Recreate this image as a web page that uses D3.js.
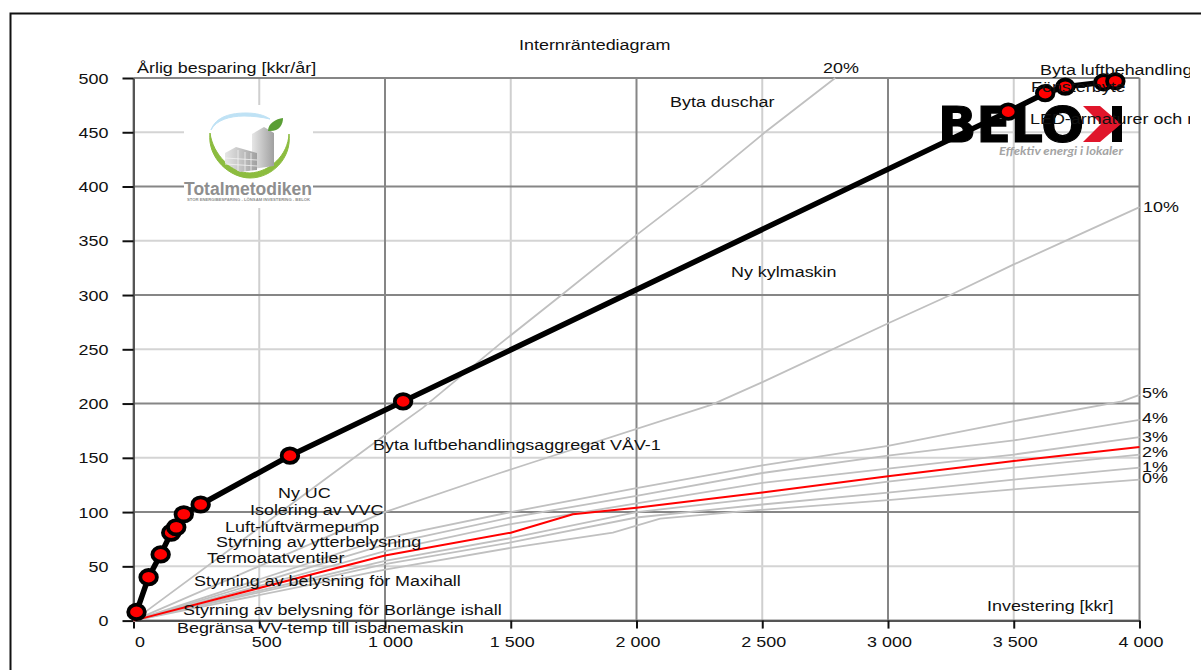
<!DOCTYPE html>
<html lang="sv">
<head>
<meta charset="utf-8" />
<title>Internräntediagram</title>
<style>
  html, body { margin: 0; padding: 0; background: #fff; overflow: hidden; }
  text { font-family: "Liberation Sans", Arial, sans-serif; fill: #111; }
</style>
</head>
<body>
<script src="https://d3js.org/d3.v7.min.js"></script>
<script>
// investment [kkr], yearly saving [kkr/yr]
const investX = [12, 60, 108, 150, 170, 200, 267, 622, 1072, 3478, 3625, 3705, 3857, 3904];
const savingY = [8, 40, 61, 81, 86, 98, 107, 152, 202, 469, 486, 492, 496, 497];

// internal rate curves
const rate20 = [[0,0],[1000,171],[1150,196],[1457,255],[1702,300],[1998,355],[2245,399],[2511,450],[2790,500]];
const rate10 = [[0,0],[987,99],[1457,136],[1576,145],[2300,199],[2503,220],[3001,274],[3248,300],[3498,328],[3725,352],[4000,381]];
const rate5 = [[0,0],[1000,76],[1500,100],[2000,122],[2500,143],[3000,161],[3506,184],[3930,202],[4000,208]];
const rate4 = [[0,0],[1000,70],[1500,95],[2000,115],[2500,136],[3000,152],[3500,166],[4000,185]];
const rate3 = [[0,0],[1000,64],[1500,89],[2000,108],[2500,127],[3000,140],[3500,153],[4000,169]];
const rate2 = [[0,0],[1000,55],[1500,76],[2000,100],[2500,113],[3000,128],[3500,141],[4000,153]];
const rate1 = [[0,0],[1000,52],[1500,72],[2000,95],[2500,107],[3000,118],[3500,130],[4000,141]];
const rate0 = [[0,0],[1000,47],[1500,67],[1906,81],[2094,94],[2384,100],[3000,111],[3500,121],[4000,130]];
const redLine = [[0,0],[1000,60],[1500,81],[1747,98],[2000,104],[2500,118],[3000,133],[3500,147],[4000,160]];

const grayCurves = [rate20, rate10, rate5, rate4, rate3, rate2, rate1, rate0];

const xTicks = [0, 500, 1000, 1500, 2000, 2500, 3000, 3500, 4000];
const yTicks = [0, 50, 100, 150, 200, 250, 300, 350, 400, 450, 500];

const rateLabels = ["20%", "10%", "5%", "4%", "3%", "2%", "1%", "0%"];
const ratePos = [[823,73],[1143,212],[1142,398],[1142,423],[1142,442],[1142,457],[1142,472],[1142,483]];

const measures = [
  "Begränsa VV-temp till isbanemaskin",
  "Styrning av belysning för Borlänge ishall",
  "Styrning av belysning för Maxihall",
  "Termoatatventiler",
  "Styrning av ytterbelysning",
  "Luft-luftvärmepump",
  "Isolering av VVC",
  "Ny UC",
  "Byta luftbehandlingsaggregat VÅV-1",
  "Ny kylmaskin",
  "Byta duschar",
  "LED-armaturer och r",
  "Fönsterbyte",
  "Byta luftbehandling"
];
const measurePos = [[177,633],[183,615],[194,586],[207,563],[216,547],[225,532],[250,515],[278,498],[373,450],[731,277],[670,107],[1030,124],[1031,92],[1040,75]];

const width = 1201, height = 670;
const x = d3.scaleLinear().domain([0, 4000]).range([133.5, 1139.5]);
const y = d3.scaleLinear().domain([0, 500]).range([620.6, 78]);
const stretch = 1.195;   // the original picture is stretched sideways

const svg = d3.select("body").append("svg")
  .attr("width", width)
  .attr("height", height)
  .style("display", "block");

svg.append("defs").append("clipPath").attr("id", "pageclip")
  .append("rect").attr("width", 1190).attr("height", height);

const stretched = (g, px, py, label, size) => g.append("text")
  .attr("transform", `translate(${px},${py}) scale(${stretch},1)`)
  .attr("font-size", size || 15)
  .text(label);

// frame
svg.append("path")
  .attr("d", "M10.5,670V13.5H1201")
  .attr("fill", "none").attr("stroke", "#111").attr("stroke-width", 2);

// grid
const grid = svg.append("g");
const isMajorX = d => d % 1000 === 0;
const isMajorY = d => d % 100 === 0;
grid.selectAll("line.vminor").data(xTicks.filter(d => !isMajorX(d))).enter().append("line")
  .attr("x1", d => x(d)).attr("x2", d => x(d)).attr("y1", y(500)).attr("y2", y(0))
  .attr("stroke", "#cfcfcf").attr("stroke-width", 2);
grid.selectAll("line.hminor").data(yTicks.filter(d => !isMajorY(d))).enter().append("line")
  .attr("x1", x(0)).attr("x2", x(4000)).attr("y1", d => y(d)).attr("y2", d => y(d))
  .attr("stroke", "#d4d4d4").attr("stroke-width", 2);
grid.selectAll("line.hmajor").data(yTicks.filter(isMajorY)).enter().append("line")
  .attr("x1", x(0)).attr("x2", x(4000)).attr("y1", d => y(d)).attr("y2", d => y(d))
  .attr("stroke", "#868686").attr("stroke-width", 2);
grid.selectAll("line.vmajor").data(xTicks.filter(isMajorX)).enter().append("line")
  .attr("x1", d => x(d)).attr("x2", d => x(d)).attr("y1", y(500)).attr("y2", y(0))
  .attr("stroke", "#868686").attr("stroke-width", 2);

// axes
const fmt = d => d3.format(",")(d).replace(",", " ");
const xAxis = svg.append("g").attr("transform", `translate(0,${y(0)})`)
  .call(d3.axisBottom(x).tickValues(xTicks).tickFormat(fmt).tickSize(8).tickSizeOuter(0));
const yAxis = svg.append("g").attr("transform", `translate(${x(0)},0)`)
  .call(d3.axisLeft(y).tickValues(yTicks).tickSize(11).tickSizeOuter(0));
svg.selectAll(".domain").attr("stroke", "#555").attr("stroke-width", 2);
svg.selectAll(".tick line").attr("stroke", "#111").attr("stroke-width", 2);

const xShift = d => d === 0 ? 6 : d === 500 ? 7 : d === 1000 ? 5 : 1;
xAxis.selectAll("text")
  .attr("font-family", null).attr("font-size", 15).attr("text-anchor", "middle")
  .attr("y", null).attr("dy", null)
  .attr("transform", d => `translate(${xShift(d)},26) scale(${stretch},1)`);
yAxis.selectAll("text")
  .attr("font-family", null).attr("font-size", 15).attr("text-anchor", "end")
  .attr("x", null).attr("dy", null)
  .attr("transform", `translate(-25,5) scale(${stretch},1)`);

// Totalmetodiken logo
const logoA = svg.append("g");
logoA.append("rect").attr("x", 184).attr("y", 105).attr("width", 129).attr("height", 103).attr("fill", "#fff");
const bGrad = svg.select("defs").append("linearGradient").attr("id", "bgrad").attr("x1", 0).attr("x2", 1).attr("y1", 0).attr("y2", 0);
bGrad.append("stop").attr("offset", 0).attr("stop-color", "#e6e6e6");
bGrad.append("stop").attr("offset", 1).attr("stop-color", "#a0a0a0");
logoA.append("path").attr("d", "M211,130C216,116 232,113 246,113C256,113 264,115 270,119C262,117 252,116 244,116C230,116 216,120 211,130Z")
  .attr("fill", "#bfe2f5").attr("stroke", "#bfe2f5").attr("stroke-width", 1);
logoA.append("path").attr("d", "M210,133C207,158 230,178 250,178C272,178 292,158 289,134C288,155 270,172 250,173C232,173 213,155 210,133Z")
  .attr("fill", "#8cbc3f").attr("stroke", "#8cbc3f").attr("stroke-width", 1);
logoA.append("path").attr("d", "M252,134L264,127L274,133V166L252,169Z").attr("fill", "url(#bgrad)");
logoA.append("path").attr("d", "M225,153L236,147L257,153V170L240,172L225,163Z").attr("fill", "url(#bgrad)");
logoA.append("path").attr("d", "M238,150V171M245,152V172M251,153V171M225,158L257,160M225,164L257,166")
  .attr("fill", "none").attr("stroke", "#f2f2f2").attr("stroke-width", 0.8);
logoA.append("path").attr("d", "M268,131C268,123 276,119 283,118C283,125 279,132 268,131Z").attr("fill", "#5a9e35");
logoA.append("text").attr("x", 184).attr("y", 195).attr("font-size", 17.5).attr("font-weight", "bold")
  .attr("textLength", 128).attr("lengthAdjust", "spacingAndGlyphs").style("fill", "#8e8e8e").text("Totalmetodiken");
logoA.append("text").attr("x", 187).attr("y", 200.5).attr("font-size", 4).attr("font-weight", "bold")
  .attr("textLength", 123).attr("lengthAdjust", "spacingAndGlyphs").style("fill", "#8e8e8e").text("STOR ENERGIBESPARING - LÖNSAM INVESTERING - BELOK");

// BELOK logo
const logoB = svg.append("g");
logoB.append("text").attr("x", 938).attr("y", 141.5).attr("font-size", 49).attr("font-weight", "bold")
  .attr("textLength", 146).attr("lengthAdjust", "spacingAndGlyphs")
  .attr("stroke", "#000").attr("stroke-width", 1.2)
  .style("font-family", "'DejaVu Sans'").style("fill", "#000").text("BELO");
logoB.append("rect").attr("x", 1112).attr("y", 106).attr("width", 10).attr("height", 36).attr("fill", "#000");
logoB.append("path").attr("d", "M1083,106H1100L1121,124L1100,142H1083L1101,124Z").attr("fill", "#e0162b");
logoB.append("text").attr("x", 999).attr("y", 155).attr("font-size", 11.5).attr("font-weight", "bold").attr("font-style", "italic")
  .attr("textLength", 124).attr("lengthAdjust", "spacingAndGlyphs")
  .style("font-family", "Lato").style("fill", "#a4a4a4").text("Effektiv energi i lokaler");

// curves
const curve = d3.line().x(d => x(d[0])).y(d => y(d[1]));
svg.append("g").selectAll("path").data(grayCurves).enter().append("path")
  .attr("d", curve).attr("fill", "none").attr("stroke", "#c0c0c0").attr("stroke-width", 1.8);
svg.append("path").datum(redLine).attr("d", curve)
  .attr("fill", "none").attr("stroke", "#ff0000").attr("stroke-width", 2);

// cumulative line
const pts = investX.map((d, i) => [d, savingY[i]]);
svg.append("path").datum(pts).attr("d", curve)
  .attr("fill", "none").attr("stroke", "#000").attr("stroke-width", 5.5).attr("stroke-linejoin", "round");
svg.append("g").selectAll("ellipse").data(pts).enter().append("ellipse")
  .attr("cx", d => x(d[0])).attr("cy", d => y(d[1]))
  .attr("rx", 8.3).attr("ry", 7.2)
  .attr("fill", "#ff0000").attr("stroke", "#000").attr("stroke-width", 3.8);

// texts
const labels = svg.append("g").attr("clip-path", "url(#pageclip)");
stretched(labels, 519, 50, "Internräntediagram");
stretched(labels, 137, 73, "Årlig besparing [kkr/år]");
stretched(labels, 987, 611, "Investering [kkr]");
rateLabels.forEach((t, i) => stretched(labels, ratePos[i][0], ratePos[i][1], t));
measures.forEach((t, i) => stretched(labels, measurePos[i][0], measurePos[i][1], t));
</script>
</body>
</html>
